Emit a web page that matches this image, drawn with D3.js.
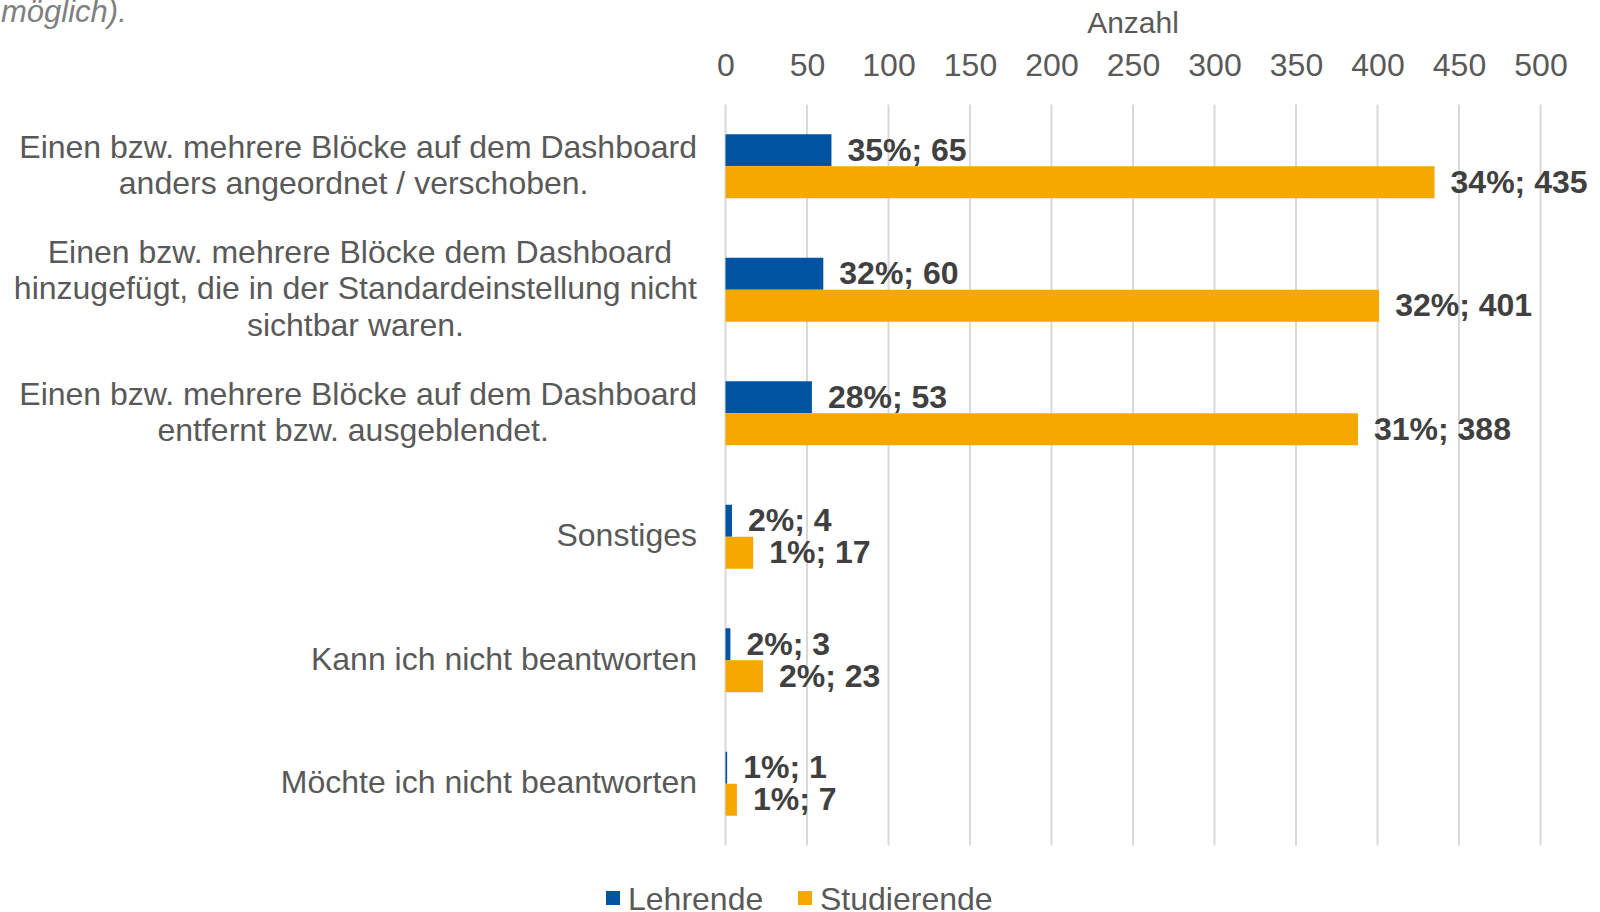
<!DOCTYPE html>
<html><head><meta charset="utf-8">
<script src="https://cdn.jsdelivr.net/npm/d3@7"></script>
<style>
html,body{margin:0;padding:0;background:#fff;}
svg{display:block;font-family:"Liberation Sans",Arial,sans-serif;}
</style></head>
<body>
<svg id="chart" width="1600" height="912"></svg>
<script>
const categories = [
  ["Einen bzw. mehrere Blöcke auf dem Dashboard", "anders angeordnet / verschoben."],
  ["Einen bzw. mehrere Blöcke dem Dashboard", "hinzugefügt, die in der Standardeinstellung nicht", "sichtbar waren."],
  ["Einen bzw. mehrere Blöcke auf dem Dashboard", "entfernt bzw. ausgeblendet."],
  ["Sonstiges"],
  ["Kann ich nicht beantworten"],
  ["Möchte ich nicht beantworten"]
];
const seriesNames = ["Lehrende", "Studierende"];
const lehrendeValues = [65, 60, 53, 4, 3, 1];
const lehrendePct = [35, 32, 28, 2, 2, 1];
const studierendeValues = [435, 401, 388, 17, 23, 7];
const studierendePct = [34, 32, 31, 1, 2, 1];
const tickValues = [0, 50, 100, 150, 200, 250, 300, 350, 400, 450, 500];
const colors = ["#0053A1", "#F5A800"];

(function () {
const svg = d3.select("#chart");
const pLeft = 725.5, pRight = 1540.5, pTop = 104.5, pBottom = 845.5;
const catKeys = categories.map((c, i) => i);
const x = d3.scaleLinear().domain([0, 500]).range([pLeft, pRight]);
const y = d3.scaleBand().domain(catKeys).range([pTop, pBottom]).paddingInner(0).paddingOuter(0);
const barH = 32;
// small per-line centering nudges (layout only)
const lineNudge = [[0, -4.5], [4.5, 0, 0], [0, -5], [0], [0], [0]];

// gridlines
svg.append("g").selectAll("line").data(tickValues).join("line")
  .attr("x1", d => x(d)).attr("x2", d => x(d))
  .attr("y1", pTop).attr("y2", pBottom)
  .attr("stroke", "#D9D9D9").attr("stroke-width", 2);

// top axis
const axis = d3.axisTop(x).tickValues(tickValues).tickSize(0).tickPadding(0);
const ag = svg.append("g").attr("transform", "translate(0,76)").call(axis);
ag.select(".domain").remove();
ag.selectAll("text").attr("font-size", 32).attr("fill", "#595959")
  .attr("font-family", "Liberation Sans, Arial, sans-serif").attr("dy", 0);

svg.append("text").attr("x", (pLeft + pRight) / 2).attr("y", 33)
  .attr("text-anchor", "middle").attr("font-size", 30).attr("fill", "#595959").text("Anzahl");

// title fragment
svg.append("text").attr("x", 1).attr("y", 22).attr("font-size", 31).attr("font-style", "italic")
  .attr("fill", "#7F7F7F").text("möglich).");

// series
const series = [
  {name: seriesNames[0], vals: lehrendeValues, pct: lehrendePct, off: -barH},
  {name: seriesNames[1], vals: studierendeValues, pct: studierendePct, off: 0}
];
series.forEach((s, si) => {
  const g = svg.append("g");
  g.selectAll("rect").data(s.vals).join("rect")
    .attr("x", x(0))
    .attr("y", (d, i) => y(i) + y.bandwidth() / 2 + s.off)
    .attr("width", d => x(d) - x(0))
    .attr("height", barH)
    .attr("fill", colors[si]);
  g.selectAll("text").data(s.vals).join("text")
    .attr("x", d => x(d) + 16)
    .attr("y", (d, i) => y(i) + y.bandwidth() / 2 + s.off + barH / 2 - 1)
    .attr("dy", "0.36em")
    .attr("font-size", 32).attr("font-weight", "bold").attr("fill", "#404040")
    .text((d, i) => s.pct[i] + "%; " + d);
});

// category labels
const lineH = 36.5;
categories.forEach((lines, i) => {
  const g = svg.append("g");
  const cy = y(i) + y.bandwidth() / 2 - 2;
  const texts = lines.map((l, j) => g.append("text")
    .attr("font-size", 32).attr("fill", "#595959").attr("text-anchor", "middle")
    .attr("y", cy + (j - (lines.length - 1) / 2) * lineH).attr("dy", "0.36em").text(l));
  const maxW = d3.max(texts, t => t.node().getComputedTextLength());
  texts.forEach((t, j) => t.attr("x", 697 - maxW / 2 + lineNudge[i][j]));
});

// legend
const legX = [606, 798];
seriesNames.forEach((n, i) => {
  svg.append("rect").attr("x", legX[i]).attr("y", 891).attr("width", 14).attr("height", 14).attr("fill", colors[i]);
  svg.append("text").attr("x", legX[i] + 22).attr("y", 898).attr("dy", "0.36em")
    .attr("font-size", 32).attr("fill", "#595959").text(n);
});
})();
</script>
</body></html>
